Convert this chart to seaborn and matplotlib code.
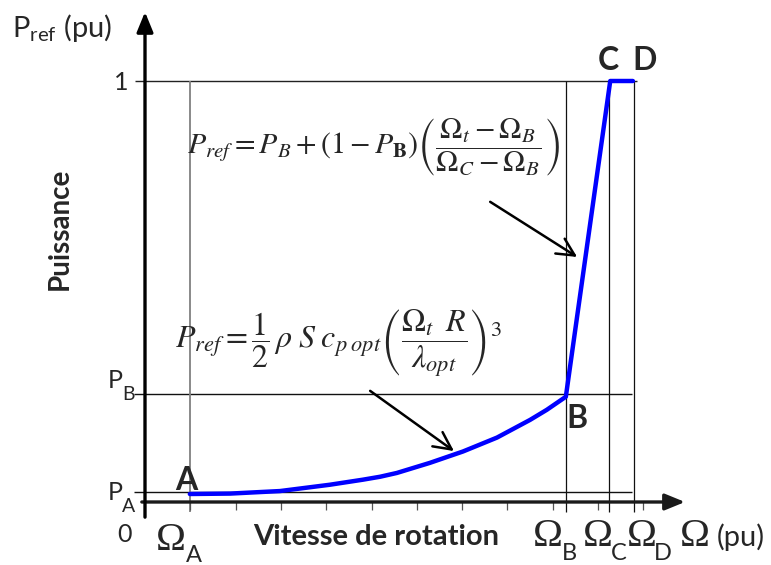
import matplotlib
matplotlib.use("Agg")
import matplotlib.pyplot as plt
import matplotlib.transforms as mtransforms
import seaborn as sns

# Curve (Omega in pu, P_ref in pu)
curve_omega = [0.099, 0.188, 0.298, 0.408, 0.481, 0.519, 0.556, 0.629, 0.702, 0.777, 0.850, 0.887, 0.929]
curve_power = [0.019, 0.020, 0.026, 0.041, 0.053, 0.060, 0.069, 0.093, 0.120, 0.153, 0.195, 0.219, 0.250]

# Characteristic points A, B, C, D
point_names = ["A", "B", "C", "D"]
point_omega = [0.099, 0.929, 1.027, 1.077]
point_power = [0.019, 0.250, 1.0, 1.0]

# Guide lines
guide_omega = [0.099, 0.929, 1.024, 1.079]
guide_power = [0.024, 0.257, 1.0]
tick_omega = [0.1, 0.2, 0.3, 0.4, 0.5, 0.6, 0.7, 0.8, 0.9, 1.0, 1.1]

sns.set_style("white")
plt.rcParams["font.family"] = ["Lato", "DejaVu Sans"]

W, H = 771, 565
fig = plt.figure(figsize=(W / 100, H / 100), dpi=100)
ax = fig.add_axes([0, 0, 1, 1])
ax.set_xlim(-145 / 453, (W - 145) / 453)
ax.set_ylim(-(H - 502) / 421, 502 / 421)
ax.axis("off")

# pixel transform for text placement (origin top-left)
pix = mtransforms.Affine2D().scale(1 / W, -1 / H).translate(0, 1) + fig.transFigure

# guide lines
ax.hlines(guide_power[2], -0.022, 1.086, color="#222222", lw=1.0)
ax.hlines(guide_power[1], -0.024, 1.075, color="#111111", lw=1.0)
ax.hlines(guide_power[0], -0.024, 1.075, color="#111111", lw=1.0)
ax.vlines(guide_omega[0], -0.024, 1.0, color="#808080", lw=1.3)
ax.vlines(guide_omega[1:], -0.024, 1.0, color="#111111", lw=0.9)
ax.vlines(tick_omega, -0.019, 0, color="#555555", lw=0.9)

# axes with arrows
axis_arrow = dict(arrowstyle="-|>,head_length=1.1,head_width=0.45",
                  lw=2.4, shrinkA=0, shrinkB=0, mutation_scale=11)
ax.annotate("", xy=(1.192, 0), xytext=(-0.007, 0),
            arrowprops=dict(color="#1a1a1a", **axis_arrow))
ax.annotate("", xy=(0, 1.164), xytext=(0, -0.036),
            arrowprops=dict(color="black", **axis_arrow))

# power reference curve
full_omega = curve_omega + point_omega[2:]
full_power = curve_power + point_power[2:]
sns.lineplot(x=full_omega, y=full_power, ax=ax, color="#0000ff", lw=3.2,
             sort=False, estimator=None)

# annotation arrows to the formulas
arrow_kw = dict(arrowstyle="->,head_length=0.9,head_width=0.45", color="black",
                lw=1.8, shrinkA=0, shrinkB=0, mutation_scale=14)
ax.annotate("", xy=(0.954, 0.582), xytext=(0.762, 0.713), arrowprops=arrow_kw)
ax.annotate("", xy=(0.682, 0.121), xytext=(0.497, 0.264), arrowprops=arrow_kw)

# formulas
f1 = (r"$P_{ref} = P_B + \left(1 - P_{\mathbf{B}}\right)"
      r"\left(\dfrac{\Omega_t - \Omega_B}{\Omega_C - \Omega_B}\right)$")
f2 = (r"$P_{ref} = \dfrac{1}{2}\,\rho\;S\;c_{p\;opt}"
      r"\left(\dfrac{\Omega_t\;\; R}{\lambda_{opt}}\right)^3$")
fig.text(187, 147, f1, transform=pix, fontsize=21.5, math_fontfamily="stix",
         ha="left", va="center")
fig.text(175, 343, f2, transform=pix, fontsize=23, math_fontfamily="stix",
         ha="left", va="center")

# point letters
for name, (xp, yp) in zip(point_names, [(186, 481), (577, 419), (608, 60), (645, 60)]):
    fig.text(xp, yp, name, transform=pix, fontsize=23, fontweight="bold",
             ha="center", va="center")

# axis titles
fig.text(12, 28, r"P$_{\mathregular{ref}}$ (pu)", transform=pix, fontsize=21,
         ha="left", va="center")
fig.text(60, 229, "Puissance", transform=pix, fontsize=20, fontweight="bold",
         rotation=90, ha="center", va="center")
fig.text(376, 537, "Vitesse de rotation", transform=pix, fontsize=21,
         fontweight="bold", ha="center", va="center")

# y tick labels
fig.text(121, 82, "1", transform=pix, fontsize=18, ha="center", va="center")
fig.text(124, 535, "0", transform=pix, fontsize=18, ha="center", va="center")


def sub_label(main, sub, xm, ym, xs, ys, size, sub_size, serif=False):
    fam = ["Liberation Serif"] if serif else ["Lato"]
    fig.text(xm, ym, main, transform=pix, fontsize=size, family=fam,
             ha="center", va="center")
    fig.text(xs, ys, sub, transform=pix, fontsize=sub_size,
             ha="center", va="center")


sub_label("P", "B", 115, 381, 129, 394, 18, 14)
sub_label("P", "A", 115, 492, 129, 506, 18, 14)

# Omega labels
sub_label("\u03a9", "A", 171, 541, 194, 555, 29, 17, serif=True)
sub_label("\u03a9", "B", 548, 537, 569, 554, 29, 17, serif=True)
sub_label("\u03a9", "C", 598, 537, 619, 554, 29, 17, serif=True)
sub_label("\u03a9", "D", 642, 537, 663, 554, 29, 17, serif=True)
fig.text(695, 537, "\u03a9", transform=pix, fontsize=29, family=["Liberation Serif"],
         ha="center", va="center")
fig.text(741, 537, "(pu)", transform=pix, fontsize=21, ha="center", va="center")

fig.savefig("out.png", dpi=100)
